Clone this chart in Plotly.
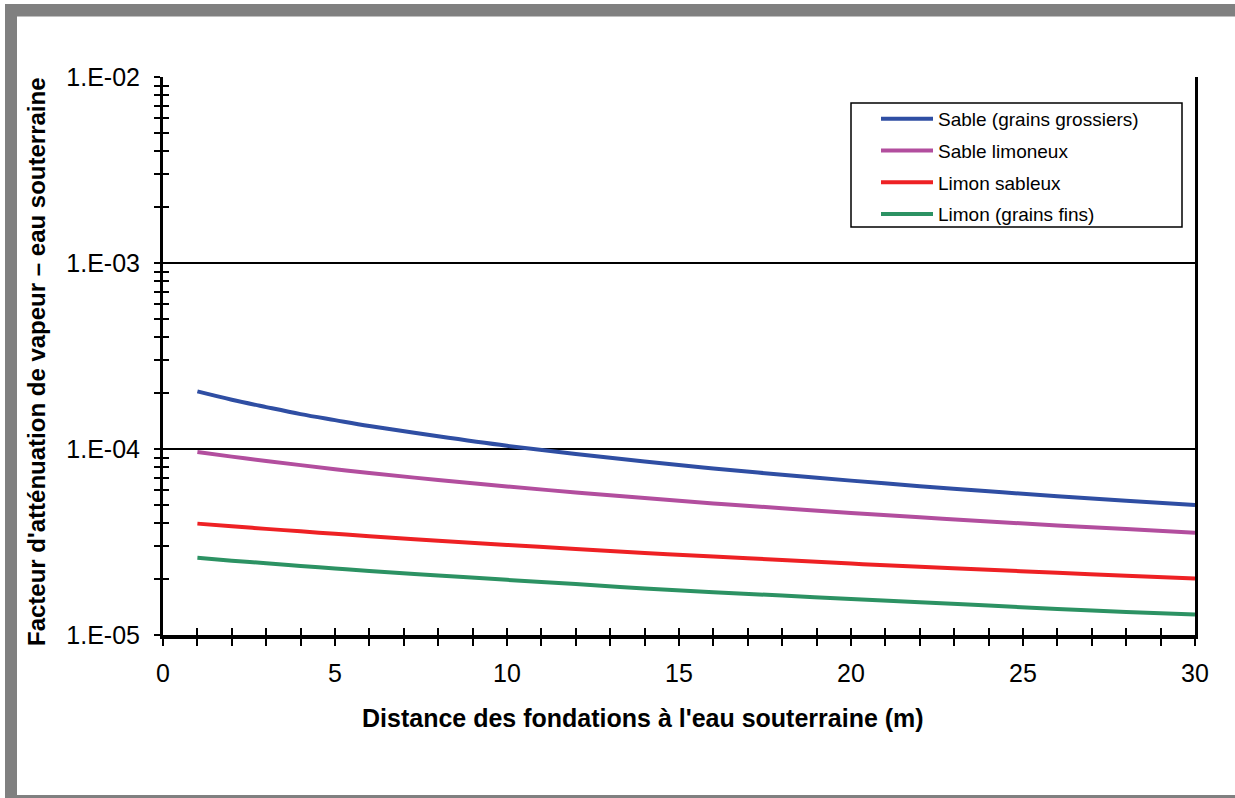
import plotly.graph_objects as go

# ---------------- data ----------------
distance = [1, 2, 3, 4, 5, 6, 8, 10, 12, 14, 16, 18, 20, 22, 24, 26, 28, 30]

sable_grossier = [2.04e-4, 1.84e-4, 1.68e-4, 1.54e-4, 1.43e-4, 1.33e-4, 1.17e-4, 1.04e-4,
                  9.4e-5, 8.56e-5, 7.86e-5, 7.27e-5, 6.76e-5, 6.31e-5, 5.92e-5, 5.58e-5, 5.27e-5, 5.0e-5]
sable_limoneux = [9.64e-5, 9.10e-5, 8.62e-5, 8.19e-5, 7.79e-5, 7.44e-5, 6.81e-5, 6.29e-5,
                  5.84e-5, 5.45e-5, 5.10e-5, 4.80e-5, 4.53e-5, 4.29e-5, 4.08e-5, 3.88e-5, 3.71e-5, 3.55e-5]
limon_sableux = [3.97e-5, 3.84e-5, 3.72e-5, 3.61e-5, 3.50e-5, 3.40e-5, 3.21e-5, 3.05e-5,
                 2.90e-5, 2.76e-5, 2.64e-5, 2.53e-5, 2.42e-5, 2.33e-5, 2.24e-5, 2.16e-5, 2.08e-5, 2.01e-5]
limon_fin = [2.60e-5, 2.51e-5, 2.43e-5, 2.35e-5, 2.28e-5, 2.21e-5, 2.09e-5, 1.98e-5,
             1.88e-5, 1.78e-5, 1.70e-5, 1.63e-5, 1.56e-5, 1.50e-5, 1.44e-5, 1.38e-5, 1.33e-5, 1.29e-5]

series_names = ["Sable (grains grossiers)", "Sable limoneux", "Limon sableux", "Limon (grains fins)"]
series_values = [sable_grossier, sable_limoneux, limon_sableux, limon_fin]
series_colors = ["#2F4EA3", "#B24E9E", "#EE2124", "#2C9263"]

x_tick_vals = [0, 5, 10, 15, 20, 25, 30]
x_minor_vals = list(range(0, 31))
y_tick_vals = [1e-5, 1e-4, 1e-3, 1e-2]
y_tick_text = ["1.E-05", "1.E-04", "1.E-03", "1.E-02"]
y_minor_vals = [m * 10.0 ** e for e in (-5, -4, -3) for m in range(2, 10)]

x_title = "Distance des fondations à l'eau souterraine (m)"
y_title = "Facteur d'atténuation de vapeur – eau souterraine"

# ---------------- layout geometry (pixels) ----------------
W, H = 1235, 798
PL, PR, PT, PB = 163, 1195, 77, 635   # plot area in px


def px(xp):
    return (xp - PL) / (PR - PL)


def py(yp):
    return (PB - yp) / (PB - PT)


FONT = "Liberation Sans, Arial, sans-serif"

fig = go.Figure()
for name, vals, col in zip(series_names, series_values, series_colors):
    fig.add_trace(go.Scatter(
        x=distance, y=vals, mode="lines", name=name,
        line=dict(color=col, width=4, shape="spline"),
        legendgroup=name,
    ))

# dummy trace so overlay axes (inside ticks) get drawn
fig.add_trace(go.Scatter(x=[None], y=[None], xaxis="x2", yaxis="y2",
                         showlegend=False, hoverinfo="skip"))

fig.update_layout(
    width=W, height=H,
    margin=dict(l=PL, r=W - PR, t=PT, b=H - PB),
    paper_bgcolor="white", plot_bgcolor="white",
    font=dict(family=FONT, color="black"),
    showlegend=True,
    legend=dict(
        x=px(876), y=py(100), xanchor="left", yanchor="top",
        bgcolor="rgba(0,0,0,0)", borderwidth=0,
        font=dict(family=FONT, size=19, color="black"),
        tracegroupgap=4, traceorder="grouped",
        itemwidth=52,
    ),
    xaxis=dict(
        range=[0, 30], tickmode="array", tickvals=x_tick_vals,
        ticks="outside", ticklen=7, tickwidth=2, tickcolor="black",
        minor=dict(tickmode="array", tickvals=x_minor_vals, ticks="outside",
                   ticklen=7, tickwidth=2, tickcolor="black"),
        showline=True, linecolor="black", linewidth=4,
        showgrid=False, zeroline=False,
        tickfont=dict(family=FONT, size=25, color="black"),
        ticklabelstandoff=6,
    ),
    yaxis=dict(
        type="log", range=[-5, -2], tickmode="array",
        tickvals=y_tick_vals, ticktext=y_tick_text,
        ticks="outside", ticklen=6, tickwidth=2, tickcolor="black",
        minor=dict(tickmode="array", tickvals=y_minor_vals, ticks="outside",
                   ticklen=6, tickwidth=2, tickcolor="black"),
        showline=True, linecolor="black", linewidth=3, mirror=True,
        showgrid=True, gridcolor="black", gridwidth=2,
        zeroline=False,
        tickfont=dict(family=FONT, size=25, color="black"),
        ticklabelstandoff=9,
    ),
    xaxis2=dict(
        overlaying="x", anchor="y", range=[0, 30], tickmode="array",
        tickvals=x_minor_vals, ticks="inside", ticklen=7, tickwidth=2,
        tickcolor="black", showticklabels=False, showgrid=False,
        showline=False, zeroline=False,
    ),
    yaxis2=dict(
        overlaying="y", anchor="x", side="left", type="log", range=[-5, -2],
        tickmode="array", tickvals=y_tick_vals + y_minor_vals,
        ticks="inside", ticklen=6, tickwidth=2, tickcolor="black",
        showticklabels=False, showgrid=False, showline=False, zeroline=False,
    ),
)

# legend frame
fig.add_shape(type="rect", xref="paper", yref="paper",
              x0=px(851), x1=px(1182), y0=py(227), y1=py(103),
              fillcolor="white", line=dict(color="black", width=1.5), layer="above")

# axis titles as annotations
fig.add_annotation(
    x=px(643), y=py(718), xref="paper", yref="paper",
    text="<b>" + x_title + "</b>", showarrow=False,
    font=dict(family=FONT, size=25, color="black"),
    xanchor="center", yanchor="middle",
)
fig.add_annotation(
    x=px(36), y=py(362), xref="paper", yref="paper",
    text="<b>" + y_title + "</b>", showarrow=False, textangle=-90,
    font=dict(family=FONT, size=24, color="black"),
    xanchor="center", yanchor="middle",
)

# gray outer frame (left, top, bottom)
frame = "#808080"
fig.add_shape(type="rect", xref="paper", yref="paper",
              x0=px(5), x1=px(17), y0=py(798), y1=py(4),
              fillcolor=frame, line=dict(width=0), layer="above")
fig.add_shape(type="rect", xref="paper", yref="paper",
              x0=px(5), x1=px(1235), y0=py(16.5), y1=py(4),
              fillcolor=frame, line=dict(width=0), layer="above")
fig.add_shape(type="rect", xref="paper", yref="paper",
              x0=px(5), x1=px(1235), y0=py(798), y1=py(795),
              fillcolor=frame, line=dict(width=0), layer="above")

fig.write_html("out.html")
